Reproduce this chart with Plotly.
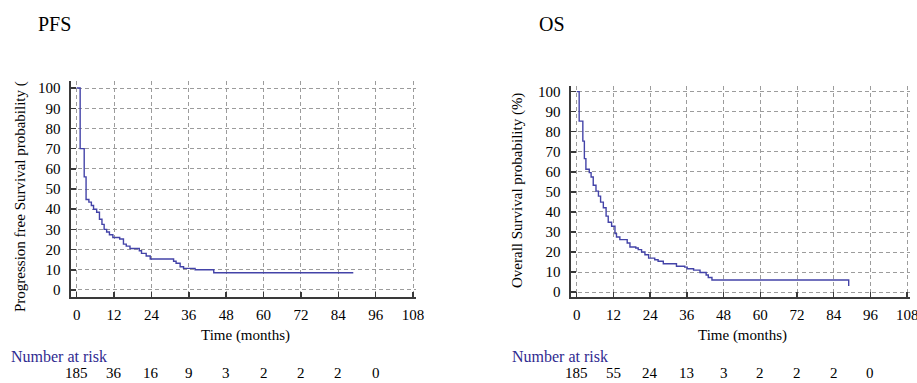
import plotly.graph_objects as go

# ---------------- data ----------------
pfs_time = [0, 1.1, 2.4, 3.0, 3.9, 4.7, 5.4, 6.4, 7.3, 8.1, 8.8, 9.6, 10.5, 11.6, 13.8,
            15.0, 15.9, 17.1, 20.1, 20.8, 22.3, 23.6, 31.1, 31.9, 33.2, 34.3, 38.0, 44.0, 88.8]
pfs_surv = [100, 70, 56, 44.8, 43.5, 41.8, 40, 38.5, 35, 32.5, 30, 28.7, 27.3, 26, 25.2,
            22.7, 21.7, 20.5, 19.4, 18.1, 16.8, 15.3, 14.2, 13.2, 11.5, 10.7, 10, 8.5, 8.5]

os_time = [0, 0.8, 2.0, 2.5, 3.0, 4.1, 4.7, 5.4, 6.3, 7.1, 7.8, 8.7, 9.6, 10.3, 11.4, 12.5,
           13.0, 14.1, 16.5, 17.4, 19.3, 20.1, 21.2, 22.3, 23.5, 25.5, 26.6, 28.3, 32.6,
           35.3, 36.1, 38.2, 40.3, 42.3, 43.0, 44.2, 88.9, 88.9]
os_surv = [100, 85.3, 75.3, 66.6, 61.3, 59.6, 57.4, 53.3, 50.4, 47.9, 44.9, 42.1, 37.9, 34.9,
           32.9, 29.2, 27.5, 26.2, 24.5, 22.5, 22.0, 21.2, 20.0, 18.7, 17.0, 16.2, 15.4, 14.2,
           12.9, 12.5, 11.7, 11.0, 9.8, 8.6, 7.3, 6.1, 6.1, 3.1]

x_ticks = [0, 12, 24, 36, 48, 60, 72, 84, 96, 108]
y_ticks = [0, 10, 20, 30, 40, 50, 60, 70, 80, 90, 100]

risk_times = [0, 12, 24, 36, 48, 60, 72, 84, 96]
pfs_at_risk = [185, 36, 16, 9, 3, 2, 2, 2, 0]
os_at_risk = [185, 55, 24, 13, 3, 2, 2, 2, 0]

# ---------------- style ----------------
W, H = 917, 383
FONT = "Times New Roman, Liberation Serif, DejaVu Serif, serif"
CURVE = "#4343a8"
AXIS = "#3a3a3a"
GRID = "#9c9c9c"
RISK_TITLE = "#2f2a90"


def px(x):
    return x / W


def py(y):
    return 1 - y / H


fig = go.Figure()
fig.add_trace(go.Scatter(x=pfs_time, y=pfs_surv, mode="lines",
                         line=dict(shape="hv", color=CURVE, width=1.4),
                         xaxis="x", yaxis="y", hoverinfo="skip", showlegend=False))
fig.add_trace(go.Scatter(x=os_time, y=os_surv, mode="lines",
                         line=dict(shape="hv", color=CURVE, width=1.4),
                         xaxis="x2", yaxis="y2", hoverinfo="skip", showlegend=False))


def xaxis(domain, anchor):
    return dict(domain=domain, anchor=anchor, range=[-2, 109], tickvals=x_ticks,
                ticks="inside", ticklen=5, tickwidth=1.5, tickcolor=AXIS,
                showline=True, linecolor=AXIS, linewidth=2,
                showgrid=True, gridcolor=GRID, gridwidth=1, griddash="4px,3px",
                zeroline=False, ticklabelstandoff=3, automargin=False,
                ticklabeloverflow="allow",
                tickfont=dict(family=FONT, size=15, color="black"))


def yaxis(domain, anchor, rng):
    return dict(domain=domain, anchor=anchor, range=rng, tickvals=y_ticks,
                ticks="inside", ticklen=5, tickwidth=1.5, tickcolor=AXIS,
                showline=True, linecolor=AXIS, linewidth=2,
                showgrid=True, gridcolor=GRID, gridwidth=1, griddash="4px,3px",
                zeroline=False, ticklabelstandoff=5, automargin=False,
                tickfont=dict(family=FONT, size=15, color="black"))


fig.update_layout(
    template="none",
    width=W, height=H,
    margin=dict(l=0, r=0, t=0, b=0, autoexpand=False),
    paper_bgcolor="white", plot_bgcolor="white",
    font=dict(family=FONT),
    hovermode=False,
    xaxis=xaxis([px(70.5), px(416.2)], "y"),
    yaxis=yaxis([py(297), py(81)], "x", [-3.5, 103.5]),
    xaxis2=xaxis([px(570.6), px(910.2)], "y2"),
    yaxis2=yaxis([py(297.2), py(86)], "x2", [-2.5, 102.8]),
)

ann = []
# panel titles
ann.append(dict(text="PFS", x=px(36), y=py(24), xref="paper", yref="paper",
                xanchor="left", yanchor="middle", showarrow=False,
                font=dict(family=FONT, size=20, color="black")))
ann.append(dict(text="OS", x=px(537), y=py(24), xref="paper", yref="paper",
                xanchor="left", yanchor="middle", showarrow=False,
                font=dict(family=FONT, size=20, color="black")))
# y titles
ann.append(dict(text="Progression free Survival probability (", x=px(20), y=py(197),
                xref="paper", yref="paper", xanchor="center", yanchor="middle",
                textangle=-90, showarrow=False,
                font=dict(family=FONT, size=15, color="black")))
ann.append(dict(text="Overall Survival probability (%)", x=px(518), y=py(191),
                xref="paper", yref="paper", xanchor="center", yanchor="middle",
                textangle=-90, showarrow=False,
                font=dict(family=FONT, size=15, color="black")))
# x titles
ann.append(dict(text="Time (months)", x=px(245), y=py(335), xref="paper", yref="paper",
                xanchor="center", yanchor="middle", showarrow=False,
                font=dict(family=FONT, size=15, color="black")))
ann.append(dict(text="Time (months)", x=px(742), y=py(335), xref="paper", yref="paper",
                xanchor="center", yanchor="middle", showarrow=False,
                font=dict(family=FONT, size=15, color="black")))
# number at risk titles
ann.append(dict(text="Number at risk", x=px(9), y=py(356), xref="paper", yref="paper",
                xanchor="left", yanchor="middle", showarrow=False,
                font=dict(family=FONT, size=16, color=RISK_TITLE)))
ann.append(dict(text="Number at risk", x=px(510), y=py(356), xref="paper", yref="paper",
                xanchor="left", yanchor="middle", showarrow=False,
                font=dict(family=FONT, size=16, color=RISK_TITLE)))
# number at risk values
for t, n in zip(risk_times, pfs_at_risk):
    ann.append(dict(text=str(n), x=t, y=py(373), xref="x", yref="paper",
                    xanchor="center", yanchor="middle", showarrow=False,
                    font=dict(family=FONT, size=15, color="black")))
for t, n in zip(risk_times, os_at_risk):
    ann.append(dict(text=str(n), x=t, y=py(373), xref="x2", yref="paper",
                    xanchor="center", yanchor="middle", showarrow=False,
                    font=dict(family=FONT, size=15, color="black")))

fig.update_layout(annotations=ann)
fig.write_html(
    "out.html",
    config={"displayModeBar": False, "staticPlot": True},
    post_script="document.body.style.margin='0';document.body.style.padding='0';"
                "document.documentElement.style.overflow='hidden';",
)
